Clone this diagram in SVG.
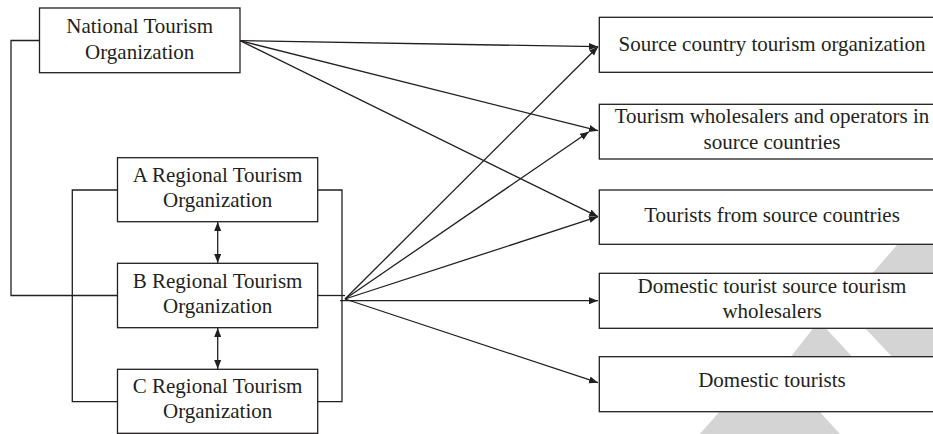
<svg xmlns="http://www.w3.org/2000/svg" width="933" height="434" viewBox="0 0 933 434">
<defs>
<marker id="ah" markerUnits="userSpaceOnUse" markerWidth="10" markerHeight="8" refX="9" refY="3.5" orient="auto-start-reverse">
<path d="M0,0 L9,3.5 L0,7 z" fill="#231f20"/>
</marker>
<style>
.box{fill:#fff;stroke:#231f20;stroke-width:1.3}
.ln{fill:none;stroke:#231f20;stroke-width:1.3}
.arr{fill:none;stroke:#231f20;stroke-width:1.3;marker-end:url(#ah)}
.dbl{fill:none;stroke:#231f20;stroke-width:1.3;marker-start:url(#ah);marker-end:url(#ah)}
text{font-family:"Liberation Serif","Times New Roman",serif;font-size:21px;fill:#231f20;text-anchor:middle}
.wm{fill:#d4d4d4}
</style>
</defs>
<rect width="933" height="434" fill="#fff"/>
<g id="watermark">
<polygon class="wm" points="910,230 950,230 950,400 933,400 844,306"/>
<polygon class="wm" points="819,321 885,392 763,392"/>
<polygon class="wm" points="769,356 850,445 690,445"/>
</g>
<g id="connectors">
<path class="ln" d="M39.5,40.5 H11 V295.5 H117.5"/>
<path class="ln" d="M117.5,190 H72.3 V401.7 H117.5"/>
<path class="ln" d="M317.7,190 H342 V401.7 H317.7"/>
<path class="ln" d="M317.7,295.5 H345"/>
<line class="arr" x1="240" y1="40.7" x2="598" y2="46.7"/>
<line class="arr" x1="240" y1="40.7" x2="598" y2="130.7"/>
<line class="arr" x1="240" y1="40.7" x2="598" y2="216.7"/>
<line class="arr" x1="345" y1="299" x2="598" y2="46.7"/>
<line class="arr" x1="345" y1="299" x2="589" y2="131.7"/>
<line class="arr" x1="345" y1="299" x2="598" y2="216.7"/>
<line class="arr" x1="340" y1="300.7" x2="598" y2="300.7"/>
<line class="arr" x1="345" y1="299" x2="598" y2="382.7"/>
<line class="dbl" x1="217.7" y1="222" x2="217.7" y2="263"/>
<line class="dbl" x1="217.7" y1="328" x2="217.7" y2="369"/>
</g>
<g id="nto">
<rect class="box" x="39.5" y="8" width="200.5" height="64.7"/>
<text x="139.7" y="33.3">National Tourism</text>
<text x="139.7" y="58.5">Organization</text>
</g>
<g id="regA">
<rect class="box" x="117.5" y="157.7" width="200.2" height="64"/>
<text x="217.6" y="181.7">A Regional Tourism</text>
<text x="217.6" y="206.7">Organization</text>
</g>
<g id="regB">
<rect class="box" x="117.5" y="263.3" width="200.2" height="64.4"/>
<text x="217.6" y="287.7">B Regional Tourism</text>
<text x="217.6" y="312.7">Organization</text>
</g>
<g id="regC">
<rect class="box" x="117.5" y="369.3" width="200.2" height="64"/>
<text x="217.6" y="393.3">C Regional Tourism</text>
<text x="217.6" y="418.3">Organization</text>
</g>
<g id="t1">
<rect class="box" x="599.3" y="17.3" width="346" height="55"/>
<text x="772" y="50.7">Source country tourism organization</text>
</g>
<g id="t2">
<rect class="box" x="599.3" y="104.3" width="346" height="54.7"/>
<text x="772" y="123.3">Tourism wholesalers and operators in</text>
<text x="772" y="149">source countries</text>
</g>
<g id="t3">
<rect class="box" x="599.3" y="190" width="346" height="54.3"/>
<text x="772" y="221.7">Tourists from source countries</text>
</g>
<g id="t4">
<rect class="box" x="599.3" y="273.3" width="346" height="55"/>
<text x="772" y="293.3">Domestic tourist source tourism</text>
<text x="772" y="318.3">wholesalers</text>
</g>
<g id="t5">
<rect class="box" x="599.3" y="356.7" width="346" height="55"/>
<text x="772" y="387.3">Domestic tourists</text>
</g>
</svg>
